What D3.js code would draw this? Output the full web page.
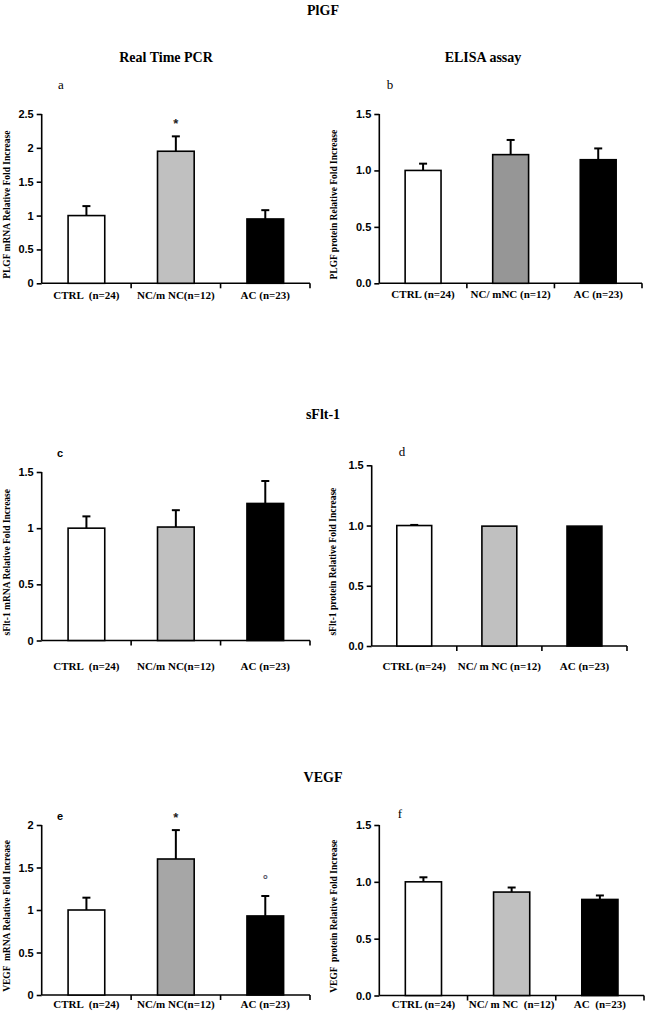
<!DOCTYPE html>
<html>
<head>
<meta charset="utf-8">
<script src="https://cdn.jsdelivr.net/npm/d3@7"></script>
<style>
  body { margin: 0; background: #fff; }
  svg { display: block; }
  .title { font-family: "Liberation Serif", "Times New Roman", serif; font-weight: bold; font-size: 14px; }
  .tick text { font-family: "Liberation Sans", Arial, sans-serif; font-weight: bold; font-size: 11px; }
  .cat { font-family: "Liberation Serif", "Times New Roman", serif; font-weight: bold; font-size: 11px; }
  .ylab { font-family: "Liberation Serif", "Times New Roman", serif; font-weight: bold; font-size: 9.5px; }
</style>
</head>
<body>
<svg id="chart" width="646" height="1015"></svg>
<script>
// ---- data ----
var catsA = ["CTRL  (n=24)", "NC/m NC(n=12)", "AC (n=23)"];
var catsB = ["CTRL (n=24)", "NC/ mNC (n=12)", "AC (n=23)"];
var catsC = ["CTRL  (n=24)", "NC/m NC(n=12)", "AC (n=23)"];
var catsD = ["CTRL (n=24)", "NC/ m NC (n=12)", "AC (n=23)"];
var catsE = ["CTRL  (n=24)", "NC/m NC(n=12)", "AC (n=23)"];
var catsF = ["CTRL (n=24)", "NC/ m NC  (n=12)", "AC  (n=23)"];

var plgfPcr = [1.00, 1.95, 0.95];
var plgfPcrErr = [0.14, 0.22, 0.13];
var plgfElisa = [1.00, 1.14, 1.095];
var plgfElisaErr = [0.06, 0.13, 0.10];
var sfltPcr = [1.00, 1.01, 1.22];
var sfltPcrErr = [0.105, 0.15, 0.20];
var sfltElisa = [1.00, 0.995, 0.995];
var sfltElisaErr = [0.005, 0, 0];
var vegfPcr = [1.00, 1.60, 0.93];
var vegfPcrErr = [0.145, 0.34, 0.235];
var vegfElisa = [1.00, 0.91, 0.845];
var vegfElisaErr = [0.04, 0.04, 0.035];

var ticksA = [0, 0.5, 1, 1.5, 2, 2.5];
var ticksC = [0, 0.5, 1, 1.5];
var ticksE = [0, 0.5, 1, 1.5, 2];
var ticksElisa = [0, 0.5, 1.0, 1.5];

var marksA = ["", "*", ""];
var marksE = ["", "*", "°"];

// ---- layout ----
var svg = d3.select("#chart");

var titles = [
  { t: "PlGF", x: 323, y: 15 },
  { t: "Real Time PCR", x: 166, y: 62 },
  { t: "ELISA assay", x: 483, y: 62 },
  { t: "sFlt-1", x: 323, y: 419 },
  { t: "VEGF", x: 323, y: 782 }
];
svg.selectAll(".title").data(titles).enter().append("text").attr("class", "title")
  .attr("x", function (d) { return d.x; }).attr("y", function (d) { return d.y; })
  .attr("text-anchor", "middle").text(function (d) { return d.t; });

var panels = [
  { cats: catsA, vals: plgfPcr, err: plgfPcrErr, ticks: ticksA, fmt: d3.format("~g"), max: 2.5,
    x0: 41.7, x1: 310, yTop: 114, yZero: 283.3, colors: ["#fff", "#c0c0c0", "#000"],
    ylab: "PLGF mRNA Relative Fold Increase", ylx: 10, letter: "a", lx: 61, ly: 89, lserif: true,
    catY: 299, marks: marksA },
  { cats: catsB, vals: plgfElisa, err: plgfElisaErr, ticks: ticksElisa, fmt: d3.format(".1f"), max: 1.5,
    x0: 379.3, x1: 642, yTop: 114, yZero: 283.3, colors: ["#fff", "#969696", "#000"],
    ylab: "PLGF protein Relative Fold Increase", ylx: 337, letter: "b", lx: 390, ly: 89, lserif: true,
    catY: 298 },
  { cats: catsC, vals: sfltPcr, err: sfltPcrErr, ticks: ticksC, fmt: d3.format("~g"), max: 1.5,
    x0: 41.7, x1: 310, yTop: 472, yZero: 640.5, colors: ["#fff", "#c0c0c0", "#000"],
    ylab: "sFlt-1 mRNA Relative Fold Increase", ylx: 10, letter: "c", lx: 60, ly: 457, lserif: false,
    catY: 670 },
  { cats: catsD, vals: sfltElisa, err: sfltElisaErr, ticks: ticksElisa, fmt: d3.format(".1f"), max: 1.5,
    x0: 371.7, x1: 627, yTop: 465.3, yZero: 646, colors: ["#fff", "#c0c0c0", "#000"],
    ylab: "sFlt-1 protein Relative Fold Increase", ylx: 336, letter: "d", lx: 402, ly: 456, lserif: true,
    catY: 670 },
  { cats: catsE, vals: vegfPcr, err: vegfPcrErr, ticks: ticksE, fmt: d3.format("~g"), max: 2,
    x0: 41.7, x1: 310, yTop: 825, yZero: 995, colors: ["#fff", "#a6a6a6", "#000"],
    ylab: "VEGF  mRNA Relative Fold Increase", ylx: 10, letter: "e", lx: 60, ly: 820, lserif: false,
    catY: 1008, marks: marksE },
  { cats: catsF, vals: vegfElisa, err: vegfElisaErr, ticks: ticksElisa, fmt: d3.format(".1f"), max: 1.5,
    x0: 379.3, x1: 644, yTop: 825, yZero: 995.5, colors: ["#fff", "#c0c0c0", "#000"],
    ylab: "VEGF  protein Relative Fold Increase", ylx: 337, letter: "f", lx: 400, ly: 818, lserif: true,
    catY: 1008 }
];

panels.forEach(function (p) {
  var g = svg.append("g");
  var x = d3.scaleBand().domain(p.cats).range([p.x0, p.x1]);
  var y = d3.scaleLinear().domain([0, p.max]).range([p.yZero, p.yTop]);
  var bw = x.bandwidth() * 0.41;
  var cx = function (i) { return x(p.cats[i]) + x.bandwidth() / 2; };

  // y axis
  var ya = g.append("g").attr("transform", "translate(" + p.x0 + ",0)")
    .call(d3.axisLeft(y).tickValues(p.ticks).tickFormat(p.fmt).tickSize(5).tickPadding(3));
  ya.select(".domain").attr("stroke-width", 1.6).attr("d", "M0," + p.yZero + "V" + p.yTop);
  ya.selectAll(".tick line").attr("stroke-width", 1.6);
  ya.selectAll(".tick text").attr("fill", "#000");

  // x axis line and separators
  g.append("line").attr("x1", p.x0).attr("x2", p.x1).attr("y1", p.yZero).attr("y2", p.yZero)
    .attr("stroke", "#000").attr("stroke-width", 1.6);
  var seps = p.cats.slice(1).map(function (c) { return x(c); }).concat([p.x1]);
  g.selectAll(".sep").data(seps).enter().append("line")
    .attr("x1", function (d) { return d; }).attr("x2", function (d) { return d; })
    .attr("y1", p.yZero).attr("y2", p.yZero + 5).attr("stroke", "#000").attr("stroke-width", 1.6);

  // error bars
  g.selectAll(".err").data(p.vals).enter().append("line")
    .attr("x1", function (d, i) { return cx(i); })
    .attr("x2", function (d, i) { return cx(i); })
    .attr("y1", function (d) { return y(d); })
    .attr("y2", function (d, i) { return y(d + p.err[i]); })
    .attr("stroke", "#000").attr("stroke-width", 2);
  g.selectAll(".cap").data(p.vals).enter().append("line")
    .attr("x1", function (d, i) { return cx(i) - 4; })
    .attr("x2", function (d, i) { return cx(i) + 4; })
    .attr("y1", function (d, i) { return y(d + p.err[i]); })
    .attr("y2", function (d, i) { return y(d + p.err[i]); })
    .attr("stroke", "#000").attr("stroke-width", 2)
    .style("display", function (d, i) { return p.err[i] > 0.001 ? null : "none"; });

  // bars
  g.selectAll(".bar").data(p.vals).enter().append("rect")
    .attr("x", function (d, i) { return cx(i) - bw / 2; })
    .attr("width", bw)
    .attr("y", function (d) { return y(d); })
    .attr("height", function (d) { return p.yZero - y(d); })
    .attr("fill", function (d, i) { return p.colors[i]; })
    .attr("stroke", "#000").attr("stroke-width", 1.6);

  // category labels
  g.selectAll(".cat").data(p.cats).enter().append("text").attr("class", "cat")
    .attr("x", function (d) { return x(d) + x.bandwidth() / 2; })
    .attr("y", p.catY).attr("text-anchor", "middle")
    .style("white-space", "pre")
    .text(function (d) { return d; });

  // y label
  g.append("text").attr("class", "ylab")
    .attr("transform", "translate(" + p.ylx + "," + ((p.yTop + p.yZero) / 2 + 6) + ") rotate(-90)")
    .attr("text-anchor", "middle").style("white-space", "pre")
    .text(p.ylab);

  // panel letter
  g.append("text").attr("x", p.lx).attr("y", p.ly)
    .attr("font-family", p.lserif ? "Liberation Serif, serif" : "Liberation Sans, sans-serif")
    .attr("font-weight", p.lserif ? "normal" : "bold")
    .attr("font-size", p.lserif ? 13 : 11)
    .attr("text-anchor", "middle").text(p.letter);

  // significance marks
  if (p.marks) {
    g.selectAll(".mark").data(p.marks).enter().append("text")
      .attr("x", function (d, i) { return cx(i); })
      .attr("y", function (d, i) { return y(p.vals[i] + p.err[i]) - (d === "*" ? 8 : 12); })
      .attr("text-anchor", "middle")
      .attr("font-family", "Liberation Sans, sans-serif").attr("font-weight", "bold")
      .attr("font-size", 13)
      .attr("fill", function (d) { return d === "*" ? "#222" : "#556"; })
      .text(function (d) { return d; });
  }
});
</script>
</body>
</html>
